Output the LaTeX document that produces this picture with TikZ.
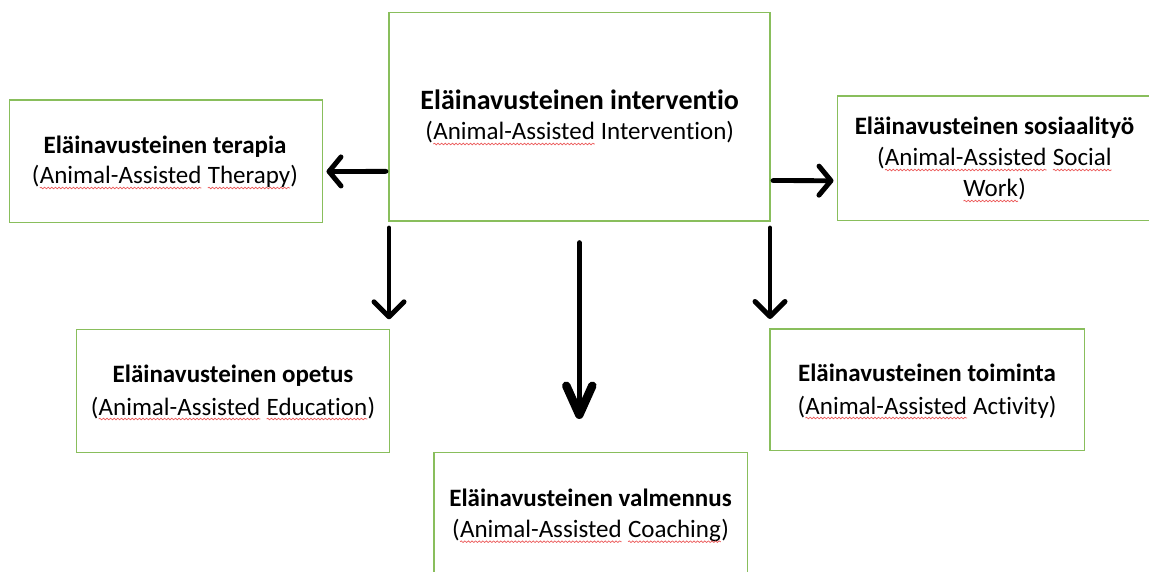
\documentclass[tikz,border=0pt]{standalone}
\usepackage{fontspec}
\setmainfont{Carlito}[Ligatures=NoCommon]
\usetikzlibrary{arrows.meta,calc,decorations.pathmorphing}
\definecolor{boxgreen}{RGB}{137,190,92}
\definecolor{squigred}{RGB}{236,90,90}
\tikzset{
  box/.style={draw=boxgreen, line width=1.3pt, inner sep=0pt, outer sep=0pt},
  tl/.style={font=\bfseries\fontsize{25}{30}\selectfont, anchor=base, inner sep=0pt},
  tlbig/.style={font=\bfseries\fontsize{28}{32}\selectfont, anchor=base, inner sep=0pt},
  sl/.style={font=\fontsize{25}{30}\selectfont, anchor=base, inner sep=0pt},
  squig/.style={draw=squigred, line width=0.7pt, decorate,
    decoration={snake, amplitude=0.8pt, segment length=3.6pt}},
  arr/.style={line width=4.8pt, line cap=round,
    -{Straight Barb[length=12pt,width=29pt,line width=5pt,round]}},
  downarr/.style={line width=4.8pt, line cap=round,
    -{Straight Barb[length=15pt,width=30pt,line width=5pt,round]}},
  bigarr/.style={line width=5pt, line cap=round,
    -{Straight Barb[length=29pt,width=26pt,line width=8.5pt,round]}}
}
\newcommand\wv[1]{\tikz[baseline=(w.base)]{\node[inner sep=0pt,outer sep=0pt,anchor=base](w){#1};\draw[squig]([yshift=-4pt]w.base west)--([yshift=-4pt]w.base east);}}
\begin{document}
\begin{tikzpicture}[x=1pt,y=-1pt]
\useasboundingbox (0,0) rectangle (1149,572);
\fill[white] (0,0) rectangle (1149,572);
% boxes
\node[box, minimum width=381pt, minimum height=208.3pt] (C) at (579.5,116.85) {};
\node[box, minimum width=313pt, minimum height=122.5pt] (T) at (166,161.25) {};
\node[box, minimum width=322.5pt, minimum height=124.5pt] (S) at (998.75,158.25) {};
\node[box, minimum width=312.6pt, minimum height=123.4pt] (O) at (233,391) {};
\node[box, minimum width=313.3pt, minimum height=147.3pt] (V) at (590.65,526.35) {};
\node[box, minimum width=314.3pt, minimum height=121.7pt] (A) at (927.15,389.85) {};
% texts
\node[tlbig] (C1) at (579.7,110) {Eläinavusteinen interventio};
\node[sl] (C2) at (579.7,140) {(\wv{Animal-Assisted} Intervention)};
\node[tl] (T1) at (165,153.3) {Eläinavusteinen terapia};
\node[sl] (T2) at (165,184) {(\wv{Animal-Assisted} \wv{Therapy})};
\node[tl] (S1) at (994.5,135) {Eläinavusteinen sosiaalityö};
\node[sl] (S2) at (994.5,166) {(\wv{Animal-Assisted} \wv{Social}};
\node[sl] (S3) at (994.5,197) {\wv{Work})};
\node[tl] (O1) at (233,382.7) {Eläinavusteinen opetus};
\node[sl] (O2) at (233,415) {(\wv{Animal-Assisted} \wv{Education})};
\node[tl] (V1) at (590.5,506) {Eläinavusteinen valmennus};
\node[sl] (V2) at (590.5,537.7) {(\wv{Animal-Assisted} \wv{Coaching})};
\node[tl] (A1) at (927,381.7) {Eläinavusteinen toiminta};
\node[sl] (A2) at (927,414) {(\wv{Animal-Assisted} Activity)};
% arrows
\draw[arr] ($(C.west)+(-3,54.5)$) -- ($(T.east)+(4,10.25)$);
\draw[arr] ($(C.east)+(3,63.7)$) -- ($(S.west)+(-4,22.45)$);
\draw[downarr] ($(C.south west)+(0,7)$) -- ($(O.north east)+(-0.3,-10)$);
\draw[downarr] ($(C.south east)+(0,7)$) -- ($(A.north west)+(0,-10)$);
\draw[bigarr] ($(C.south)+(-0.2,21.7)$) -- ($(C.south)+(-0.2,198)$);
\end{tikzpicture}
\end{document}
